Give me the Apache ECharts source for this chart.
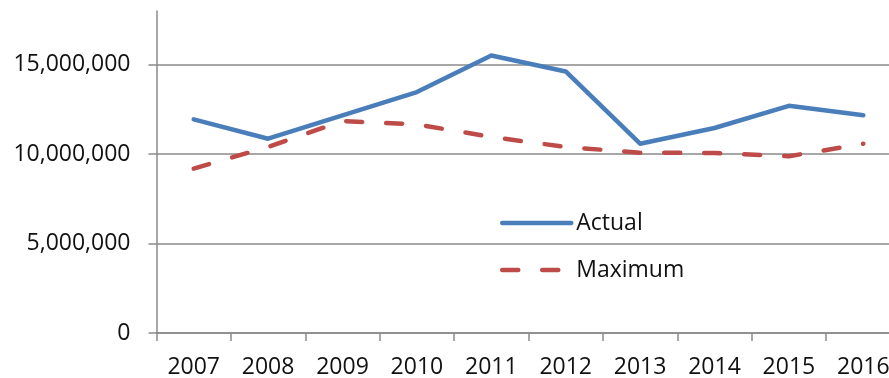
<!DOCTYPE html>
<html><head><meta charset="utf-8">
<script src="https://cdn.jsdelivr.net/npm/echarts@6/dist/echarts.min.js"></script>
<style>html,body{margin:0;padding:0;background:#fff}#c{width:889px;height:378px}</style>
</head><body><div id="c"></div>
<script>
const years = ['2007','2008','2009','2010','2011','2012','2013','2014','2015','2016'];
const actual = [11940000,10860000,12170000,13470000,15510000,14620000,10580000,11460000,12700000,12170000];
const maximum = [9190000,10400000,11850000,11660000,10960000,10400000,10080000,10060000,9880000,10580000];
const yTicks = [0,5000000,10000000,15000000];

const FONT = '"Open Sans", sans-serif';
const AX = '#8a8a8a';
const chart = echarts.init(document.getElementById('c'));
chart.setOption({
  animation:false,
  backgroundColor:'#fff',
  grid:{left:156.5, top:11, width:744, height:322, outerBoundsMode:'none', containLabel:false},
  legend:{
    orient:'vertical', left:495, top:206, itemWidth:69, itemHeight:24, itemGap:23,
    itemStyle:{opacity:0},
    lineStyle:{width:4.5, cap:'round'},
    textStyle:{fontFamily:FONT, fontSize:23, lineHeight:24, color:'#111'},
    data:['Actual','Maximum']
  },
  xAxis:{
    type:'category', data:years, boundaryGap:true,
    axisLine:{lineStyle:{color:AX,width:1.5}},
    axisTick:{show:true,length:8,lineStyle:{color:AX,width:1.5}},
    axisLabel:{interval:0,margin:23,fontFamily:FONT,fontSize:23,color:'#111',lineHeight:23},
    splitLine:{show:false}
  },
  yAxis:{
    type:'value', min:0, max:18000000, interval:5000000,
    axisLine:{show:true,lineStyle:{color:AX,width:1.5}},
    axisTick:{show:true,length:8,lineStyle:{color:AX,width:1.5},customValues:yTicks},
    axisLabel:{margin:26,fontFamily:FONT,fontSize:23,color:'#111',customValues:yTicks,
      formatter:v=>Number(v).toLocaleString('en-US')},
    splitLine:{show:true,lineStyle:{color:[AX,AX,AX,AX,'rgba(0,0,0,0)'],width:1.5}}
  },
  series:[
    {name:'Actual',type:'line',data:actual,symbol:'none',
      lineStyle:{color:'#4a7ebb',width:4.5,cap:'round',join:'round'},itemStyle:{color:'#4a7ebb'}},
    {name:'Maximum',type:'line',data:maximum,symbol:'none',
      lineStyle:{color:'#be4b48',width:4.5,type:[16,24],cap:'round',join:'round'},itemStyle:{color:'#be4b48'}}
  ]
});
</script></body></html>
